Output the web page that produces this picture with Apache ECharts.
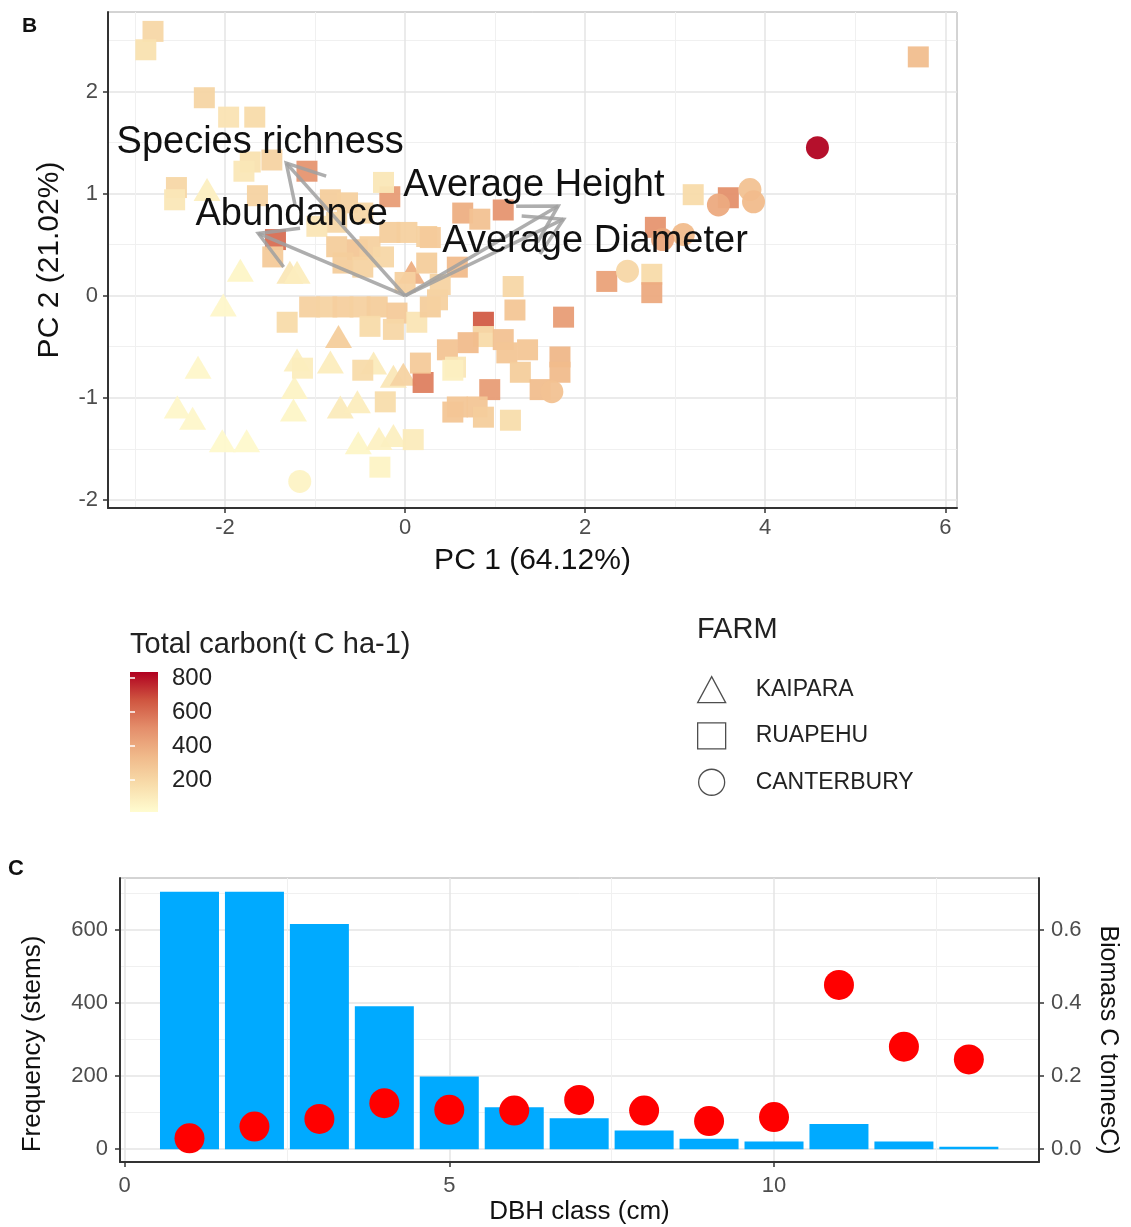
<!DOCTYPE html>
<html>
<head>
<meta charset="utf-8">
<script src="https://cdn.jsdelivr.net/npm/echarts/dist/echarts.min.js"></script>
<style>
  html, body { margin: 0; padding: 0; background: #fff; }
  #chart { width: 1131px; height: 1227px; }
</style>
</head>
<body>
<div id="chart"></div>
<script>
// ---- panel B: PCA scores [PC1, PC2, total carbon] ----
const kaipara = [
  [-2.20, 1.04, 80], [-1.83, 0.25, 50], [-1.28, 0.23, 120], [-1.20, 0.23, 90],
  [-2.02, -0.09, 40], [-2.30, -0.70, 40], [-2.53, -1.09, 40], [-2.36, -1.20, 40],
  [-2.03, -1.42, 30], [-1.76, -1.42, 30], [-1.20, -0.63, 80], [-1.23, -0.90, 60],
  [-1.24, -1.12, 50], [-0.83, -0.65, 90], [-0.74, -0.40, 250], [-0.72, -1.09, 100],
  [-0.53, -1.04, 90], [-0.35, -0.66, 100], [-0.13, -0.79, 120], [-0.02, -0.77, 220],
  [-0.52, -1.44, 50], [-0.29, -1.40, 70], [-0.13, -1.37, 80], [0.07, 0.23, 380]
];
const ruapehu = [
  [-2.80, 2.59, 200], [-2.88, 2.41, 150], [5.70, 2.34, 320], [-2.23, 1.94, 210],
  [-1.96, 1.75, 140], [-1.67, 1.75, 180], [-1.72, 1.31, 150], [-1.48, 1.33, 220],
  [-1.79, 1.22, 120], [-1.09, 1.22, 480], [-2.54, 1.06, 200], [-2.56, 0.94, 120],
  [-1.64, 0.98, 220], [-1.44, 0.55, 600], [-1.47, 0.38, 260], [-0.83, 0.94, 250],
  [-0.64, 0.91, 230], [-0.76, 0.72, 200], [-0.98, 0.68, 130], [-0.47, 0.81, 200],
  [-0.17, 0.97, 450], [-0.24, 1.11, 120], [0.02, 0.62, 230], [0.24, 0.58, 230],
  [-0.76, 0.48, 250], [-0.53, 0.45, 280], [-0.39, 0.48, 230], [-0.69, 0.32, 250],
  [-0.47, 0.28, 220], [-0.24, 0.38, 200], [-1.06, -0.11, 230], [-0.87, -0.11, 220],
  [-0.69, -0.11, 240], [-0.50, -0.11, 230], [-0.31, -0.11, 250], [-0.09, -0.17, 260],
  [0.13, -0.26, 130], [-1.31, -0.26, 180], [-0.39, -0.30, 180], [-0.13, -0.33, 200],
  [0.64, 0.81, 380], [1.09, 0.84, 480], [0.83, 0.75, 300], [0.28, 0.57, 260],
  [-0.17, 0.62, 250], [0.24, 0.32, 250], [0.58, 0.28, 330], [0.28, -0.11, 250],
  [0.36, -0.04, 230], [1.20, 0.09, 200], [1.22, -0.14, 280], [1.76, -0.21, 450],
  [0.87, -0.26, 650], [0.87, -0.40, 180], [0.47, -0.53, 290], [0.70, -0.46, 330],
  [1.09, -0.43, 300], [1.13, -0.56, 280], [1.36, -0.53, 280], [1.72, -0.60, 350],
  [1.72, -0.75, 330], [1.28, -0.75, 250], [0.56, -0.70, 120], [0.20, -0.85, 550],
  [0.94, -0.92, 450], [1.50, -0.92, 320], [0.58, -1.09, 280], [0.80, -1.09, 280],
  [1.17, -1.22, 170], [0.87, -1.19, 250], [3.20, 0.99, 180], [3.59, 0.96, 500],
  [2.78, 0.67, 480], [2.24, 0.14, 430], [2.74, 0.21, 180], [2.74, 0.03, 400],
  [-1.14, -0.71, 90], [-0.47, -0.73, 180], [-0.22, -1.04, 170], [0.09, -1.41, 100],
  [-0.28, -1.68, 60], [0.53, -0.73, 80], [0.53, -1.14, 280], [0.17, -0.66, 260],
  [0.00, 0.13, 230], [0.39, 0.11, 220]
];
const canterbury = [
  [-1.17, -1.82, 60], [4.58, 1.45, 830], [3.83, 1.04, 300], [3.48, 0.89, 400],
  [3.87, 0.92, 330], [3.09, 0.60, 330], [2.47, 0.24, 200], [2.86, 0.55, 420],
  [1.63, -0.94, 300]
];

// biplot loadings (arrow tips) and label positions
const loadingNames = ['Species richness', 'Abundance', 'Average Height', 'Average Diameter'];
const loadingPC1 = [-1.32, -1.63, 1.70, 1.76];
const loadingPC2 = [1.30, 0.61, 0.88, 0.75];
const labelPC1 = [-1.61, -1.26, 1.43, 2.11];
const labelPC2 = [1.50, 0.80, 1.08, 0.53];

// colour scale for total carbon
const carbonRange = [13, 836];
const carbonTicks = [200, 400, 600, 800];
const carbonPalette = ['#fffcd0', '#f8dcaa', '#f0b98a', '#e48e6b', '#cf5540', '#b00020'];

// ---- panel C: DBH classes ----
const dbhClass = [1, 2, 3, 4, 5, 6, 7, 8, 9, 10, 11, 12, 13];
const frequency = [705, 705, 617, 392, 199, 115, 85, 51, 29, 21, 69, 21, 7];
const biomassC = [0.030, 0.062, 0.083, 0.126, 0.108, 0.106, 0.135, 0.106, 0.077, 0.088, 0.450, 0.281, 0.246];

const chart = echarts.init(document.getElementById('chart'));

const FONT = 'Liberation Sans';
const tickLabel = { fontSize: 22, color: '#4d4d4d', fontFamily: FONT };
const axisLine = { show: true, onZero: false, lineStyle: { color: '#333', width: 2 } };
const axisTick = { show: true, length: 5, lineStyle: { color: '#333', width: 1.5 } };
const splitLine = { show: true, lineStyle: { color: '#e4e4e4', width: 1.5 } };
const minorSplitLine = { show: true, lineStyle: { color: '#f0f0f0', width: 1 } };
const arrowColor = 'rgba(160,160,160,0.85)';

function renderArrow(params, api) {
  const start = api.coord([0, 0]);
  const end = api.coord([api.value(0), api.value(1)]);
  const ang = Math.atan2(start[1] - end[1], start[0] - end[0]);
  const len = 42, spread = Math.PI / 6;
  const a1 = [end[0] + len * Math.cos(ang + spread), end[1] + len * Math.sin(ang + spread)];
  const a2 = [end[0] + len * Math.cos(ang - spread), end[1] + len * Math.sin(ang - spread)];
  return {
    type: 'group',
    children: [
      { type: 'line', shape: { x1: start[0], y1: start[1], x2: end[0], y2: end[1] },
        style: { stroke: arrowColor, lineWidth: 3.5 } },
      { type: 'polyline', shape: { points: [a1, end, a2] },
        style: { stroke: arrowColor, lineWidth: 3.5, fill: null } }
    ]
  };
}

function renderLabel(params, api) {
  const p = api.coord([api.value(0), api.value(1)]);
  return {
    type: 'text', x: p[0], y: p[1],
    style: {
      text: loadingNames[params.dataIndex], fontSize: 38, fontFamily: FONT,
      fill: '#111', align: 'center', verticalAlign: 'middle'
    }
  };
}

function renderColorbar(params, api) {
  const top = api.coord([api.value(0), api.value(3)]);
  const bottom = api.coord([api.value(2), api.value(1)]);
  const stops = carbonPalette.map((c, i) => ({ offset: i / (carbonPalette.length - 1), color: c }));
  return {
    type: 'rect',
    shape: { x: top[0], y: top[1], width: bottom[0] - top[0], height: bottom[1] - top[1] },
    style: { fill: new echarts.graphic.LinearGradient(0, 1, 0, 0, stops) }
  };
}

const option = {
  animation: false,
  backgroundColor: '#fff',
  title: [
    { text: 'B', left: 22, top: 16, padding: 0, textStyle: { fontSize: 21, fontWeight: 'bold', color: '#111', fontFamily: FONT } },
    { text: 'C', left: 8, top: 858, padding: 0, textStyle: { fontSize: 22, fontWeight: 'bold', color: '#111', fontFamily: FONT } },
    { text: 'Total carbon(t C ha-1)', left: 130, top: 630, padding: 0, textStyle: { fontSize: 29, fontWeight: 'normal', color: '#222', fontFamily: FONT } },
    { text: 'FARM', left: 697, top: 615, padding: 0, textStyle: { fontSize: 29, fontWeight: 'normal', color: '#222', fontFamily: FONT } }
  ],
  legend: {
    orient: 'vertical', left: 697, top: 676, itemWidth: 28, itemHeight: 26, itemGap: 19,
    selectedMode: false, padding: 0,
    textStyle: { fontSize: 23, color: '#222', fontFamily: FONT, padding: [0, 0, 0, 25] },
    data: [
      { name: 'KAIPARA', icon: 'triangle', itemStyle: { color: 'transparent', borderColor: '#444', borderWidth: 1.3 } },
      { name: 'RUAPEHU', icon: 'rect', itemStyle: { color: 'transparent', borderColor: '#444', borderWidth: 1.3 } },
      { name: 'CANTERBURY', icon: 'circle', itemStyle: { color: 'transparent', borderColor: '#444', borderWidth: 1.3 } }
    ]
  },
  visualMap: {
    type: 'continuous', show: false, dimension: 2, seriesIndex: [0, 1, 2],
    min: carbonRange[0], max: carbonRange[1], inRange: { color: carbonPalette }
  },
  grid: [
    { left: 108, top: 12, width: 849, height: 496, show: true, borderColor: '#444', borderWidth: 1 },
    { left: 120, top: 878, width: 919, height: 284, show: true, borderColor: '#444', borderWidth: 1 },
    { left: 130, top: 672, width: 28, height: 140 }
  ],
  xAxis: [
    {
      gridIndex: 0, type: 'value', min: -3.3, max: 6.13, splitNumber: 5,
      name: 'PC 1 (64.12%)', nameLocation: 'middle', nameGap: 38,
      nameTextStyle: { fontSize: 30, color: '#111', fontFamily: FONT },
      axisLine: axisLine, axisTick: axisTick,
      axisLabel: Object.assign({ margin: 9, showMinLabel: false, showMaxLabel: false }, tickLabel),
      splitLine: splitLine, minorTick: { show: false, splitNumber: 2 }, minorSplitLine: minorSplitLine
    },
    {
      gridIndex: 1, type: 'value', min: -0.07, max: 14.08, splitNumber: 3,
      name: 'DBH class (cm)', nameLocation: 'middle', nameGap: 37,
      nameTextStyle: { fontSize: 26, color: '#111', fontFamily: FONT },
      axisLine: axisLine, axisTick: axisTick,
      axisLabel: Object.assign({ margin: 13, showMinLabel: false, showMaxLabel: false }, tickLabel),
      splitLine: splitLine, minorTick: { show: false, splitNumber: 2 }, minorSplitLine: minorSplitLine
    },
    { gridIndex: 2, type: 'value', min: 0, max: 1, show: false }
  ],
  yAxis: [
    {
      gridIndex: 0, type: 'value', min: -2.08, max: 2.78, splitNumber: 5,
      name: 'PC 2 (21.02%)', nameLocation: 'middle', nameGap: 43,
      nameTextStyle: { fontSize: 30, color: '#111', fontFamily: FONT },
      axisLine: axisLine, axisTick: axisTick,
      axisLabel: Object.assign({ margin: 10, showMinLabel: false, showMaxLabel: false }, tickLabel),
      splitLine: splitLine, minorTick: { show: false, splitNumber: 2 }, minorSplitLine: minorSplitLine
    },
    {
      gridIndex: 1, type: 'value', min: -35, max: 743, splitNumber: 4,
      name: 'Frequency (stems)', nameLocation: 'middle', nameGap: 74,
      nameTextStyle: { fontSize: 26, color: '#111', fontFamily: FONT, padding: [0, 48, 0, 0] },
      axisLine: axisLine, axisTick: axisTick,
      axisLabel: Object.assign({ margin: 12, showMinLabel: false, showMaxLabel: false }, tickLabel),
      splitLine: splitLine, minorTick: { show: false, splitNumber: 2 }, minorSplitLine: minorSplitLine
    },
    {
      gridIndex: 1, type: 'value', position: 'right', min: -0.035, max: 0.743, splitNumber: 4,
      name: 'Biomass C tonnesC)', nameLocation: 'middle', nameGap: 56, nameRotate: -90,
      nameTextStyle: { fontSize: 25, color: '#111', fontFamily: FONT, padding: [0, 0, 0, 40] },
      axisLine: axisLine, axisTick: axisTick,
      axisLabel: Object.assign({ margin: 12, showMinLabel: false, showMaxLabel: false,
        formatter: v => v.toFixed(1) }, tickLabel),
      splitLine: { show: false }
    },
    {
      gridIndex: 2, type: 'value', position: 'right', min: carbonRange[0], max: carbonRange[1],
      axisLine: { show: false },
      axisTick: { show: true, inside: true, length: 5, customValues: carbonTicks, lineStyle: { color: '#fff', width: 1.5 } },
      axisLabel: { show: true, customValues: carbonTicks, margin: 14, fontSize: 24, color: '#222', fontFamily: FONT },
      splitLine: { show: false }, z: 5
    },
    {
      gridIndex: 2, type: 'value', position: 'left', min: carbonRange[0], max: carbonRange[1],
      axisLine: { show: false },
      axisTick: { show: true, inside: true, length: 5, customValues: carbonTicks, lineStyle: { color: '#fff', width: 1.5 } },
      axisLabel: { show: false }, splitLine: { show: false }, z: 5
    }
  ],
  series: [
    { name: 'KAIPARA', type: 'scatter', xAxisIndex: 0, yAxisIndex: 0, symbol: 'triangle',
      symbolSize: [27, 23], data: kaipara, itemStyle: { opacity: 0.95 } },
    { name: 'RUAPEHU', type: 'scatter', xAxisIndex: 0, yAxisIndex: 0, symbol: 'rect',
      symbolSize: 21, data: ruapehu, itemStyle: { opacity: 0.95 } },
    { name: 'CANTERBURY', type: 'scatter', xAxisIndex: 0, yAxisIndex: 0, symbol: 'circle',
      symbolSize: 23, data: canterbury, itemStyle: { opacity: 0.95 } },
    { type: 'custom', xAxisIndex: 0, yAxisIndex: 0, renderItem: renderArrow,
      data: loadingPC1.map((x, i) => [x, loadingPC2[i]]), z: 3 },
    { type: 'custom', xAxisIndex: 0, yAxisIndex: 0, renderItem: renderLabel,
      data: labelPC1.map((x, i) => [x, labelPC2[i]]), z: 4 },
    { type: 'bar', xAxisIndex: 1, yAxisIndex: 1, barWidth: 59,
      data: dbhClass.map((d, i) => [d, frequency[i]]), itemStyle: { color: '#00aaff' } },
    { type: 'scatter', xAxisIndex: 1, yAxisIndex: 2, symbol: 'circle', symbolSize: 30,
      data: dbhClass.map((d, i) => [d, biomassC[i]]), itemStyle: { color: '#ff0000', opacity: 1 }, z: 3 },
    { type: 'custom', xAxisIndex: 2, yAxisIndex: 3, renderItem: renderColorbar,
      data: [[0, carbonRange[0], 1, carbonRange[1]]] }
  ]
};

chart.setOption(option);
window.addEventListener('resize', function() { chart.resize(); });
</script>
</body>
</html>
